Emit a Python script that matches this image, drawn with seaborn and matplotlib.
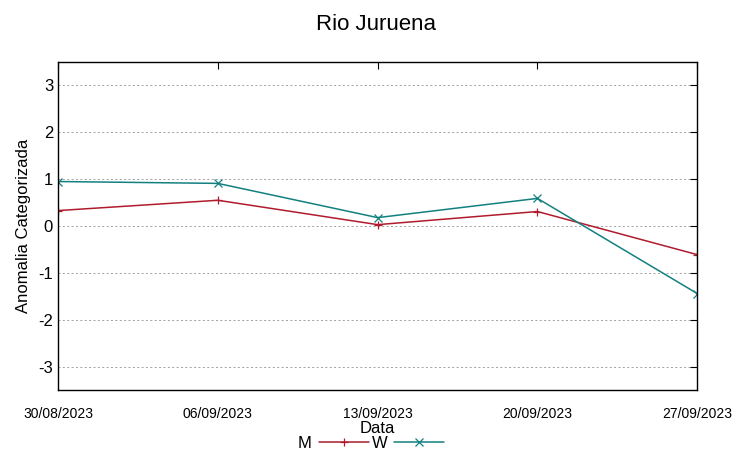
import pandas as pd
import matplotlib.pyplot as plt
import seaborn as sns

datas = ['30/08/2023', '06/09/2023', '13/09/2023', '20/09/2023', '27/09/2023']
serie_m = [0.33, 0.55, 0.03, 0.31, -0.61]
serie_w = [0.95, 0.91, 0.18, 0.59, -1.44]

sns.set_style('white')
plt.rcParams['font.family'] = ['Liberation Sans', 'DejaVu Sans']
plt.rcParams['axes.unicode_minus'] = False
plt.rcParams['text.color'] = 'black'
plt.rcParams['axes.labelcolor'] = 'black'

df = pd.DataFrame({
    'Data': datas * 2,
    'valor': serie_m + serie_w,
    'serie': ['M'] * len(datas) + ['W'] * len(datas),
})

fig = plt.figure(figsize=(7.53, 4.59), dpi=100)
ax = fig.add_axes([0.077, 0.150, 0.849, 0.715])

cores = {'M': '#b01c2e', 'W': '#138080'}
marcadores = {'M': '+', 'W': 'x'}
for nome, sub in df.groupby('serie'):
    sns.lineplot(data=sub, x='Data', y='valor', ax=ax, color=cores[nome],
                 marker=marcadores[nome], markersize=6, markeredgewidth=0.9,
                 markeredgecolor=cores[nome], linewidth=1.1, label=nome)

ax.set_xlim(0, len(datas) - 1)
ax.set_ylim(-3.5, 3.5)
ax.set_yticks([-3, -2, -1, 0, 1, 2, 3])
ax.set_xticks(range(len(datas)))
ax.set_xticklabels(datas, fontsize=10)
ax.tick_params(axis='y', labelsize=12, direction='in', length=5, right=True, colors='black')
ax.tick_params(axis='x', direction='in', length=5, top=True, pad=12, colors='black')
ax.yaxis.grid(True, linestyle=(0, (2, 2.5)), color='#a0a0a0', linewidth=0.7)
for s in ax.spines.values():
    s.set_color('black')
    s.set_linewidth(1.0)

ax.set_xlabel('Data', fontsize=12, labelpad=0)
ax.set_ylabel('Anomalia Categorizada', fontsize=12, labelpad=5)
fig.suptitle('Rio Juruena', fontsize=16, y=0.97)

ax.get_legend().remove()
h, l = ax.get_legend_handles_labels()
fig.legend(h, l, loc='lower center', ncol=2, markerfirst=False, frameon=False,
           fontsize=12, bbox_to_anchor=(0.493, -0.015), handlelength=3.0,
           columnspacing=0.2, handletextpad=0.4)

fig.savefig('out.png', dpi=100)
